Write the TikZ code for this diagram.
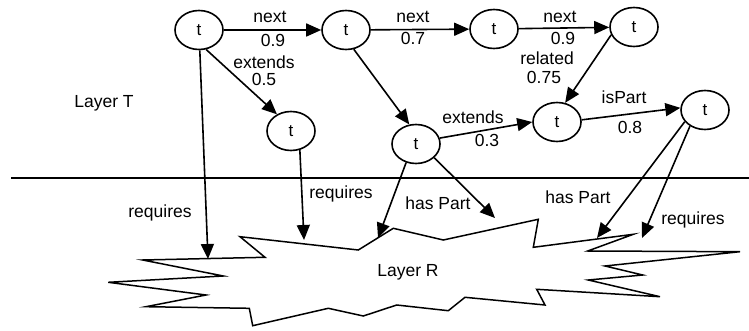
\documentclass[tikz,border=0pt]{standalone}
\usepackage{fontspec}
\setmainfont{Liberation Sans}
\usetikzlibrary{shapes.geometric,arrows.meta}

\begin{document}
\begin{tikzpicture}[x=1pt,y=-1pt,
  term/.style={draw,ellipse,line width=1.6pt,minimum width=48pt,minimum height=39pt,
               inner sep=0pt,font=\fontsize{17}{20}\selectfont},
  rel/.style={line width=1.6pt,-{Triangle[length=15pt,width=13pt]}},
  lbl/.style={inner sep=0pt,font=\fontsize{17.5}{20}\selectfont},
  layer/.style={line width=1.5pt},
]
\useasboundingbox (0,0) rectangle (749,331);

% layer separator
\coordinate (sepL) at (11,178);
\coordinate (sepR) at (749,178);
\draw[layer] (sepL) -- (sepR);

% resource layer outline
\draw[layer] (240,236.7) -- (358.3,250) -- (393.3,228.3) -- (443.3,240) -- (538.3,219.3)
  -- (533.3,247.3) -- (633.3,234.3) -- (587.7,251) -- (740,251.7) -- (605,266)
  -- (642.7,275) -- (588.3,280) -- (660,296.7) -- (536.7,289.3) -- (545,305)
  -- (465,297.3) -- (448.3,310.7) -- (396.7,305) -- (363.3,316) -- (328.3,308.3)
  -- (252.7,325.7) -- (249.3,308.3) -- (146,306.7) -- (206,295) -- (108.3,282.3)
  -- (223.3,276) -- (142.7,260) -- (265,257.3) -- cycle;
\node[lbl] (layerR) at (408,272) {Layer R};
\node[lbl] (layerT) at (104,103) {Layer T};

% terms
\node[term] (n1) at (199,30) {t};
\node[term] (n2) at (346,30) {t};
\node[term] (n3) at (494,29) {t};
\node[term] (n4) at (634,27) {t};
\node[term] (n5) at (291,131) {t};
\node[term] (n6) at (416,144) {t};
\node[term] (n7) at (557,122) {t};
\node[term] (n8) at (705,110) {t};

% arrow ends on the resource layer
\coordinate (r1) at (208,259);
\coordinate (r2) at (304,240);
\coordinate (r3) at (378,238);
\coordinate (r4) at (495,218);
\coordinate (r5) at (597,238);
\coordinate (r6) at (642,238);

% relations between terms
\draw[rel] (n1) -- (n2);
\draw[rel] (n2) -- (n3);
\draw[rel] (n3) -- (n4);
\draw[rel] (n1.-70) -- (n5.130);
\draw[rel] (n2.-68) -- (n6.109);
\draw[rel] (n4.199) -- (n7.67);
\draw[rel] (n6.14) -- (n7.180);
\draw[rel] (n7.5) -- (n8.175);

% relations to resources
\draw[rel] (n1) -- (r1);
\draw[rel] (n5.-65) -- (r2);
\draw[rel] (n6.-118) -- (r3);
\draw[rel] (n6.-37) -- (r4);
\draw[rel] (n8.-150) -- (r5);
\draw[rel] (n8.-133) -- (r6);

% labels
\node[lbl] (l1a) at (270,17) {next};
\node[lbl] (l1b) at (273,40) {0.9};
\node[lbl] (l2a) at (413,17) {next};
\node[lbl] (l2b) at (413,38) {0.7};
\node[lbl] (l3a) at (560,17) {next};
\node[lbl] (l3b) at (563,38) {0.9};
\node[lbl] (l4a) at (264,62) {extends};
\node[lbl] (l4b) at (264,79) {0.5};
\node[lbl] (l5a) at (547,58) {related};
\node[lbl] (l5b) at (544,77) {0.75};
\node[lbl] (l6a) at (473,117) {extends};
\node[lbl] (l6b) at (487,140) {0.3};
\node[lbl] (l7a) at (624,97) {isPart};
\node[lbl] (l7b) at (630,127) {0.8};
\node[lbl] (q1) at (160,213) {requires};
\node[lbl] (q2) at (341,194) {requires};
\node[lbl] (h1) at (438,203) {has Part};
\node[lbl] (h2) at (578,197) {has Part};
\node[lbl] (q3) at (693,220) {requires};
\end{tikzpicture}
\end{document}
